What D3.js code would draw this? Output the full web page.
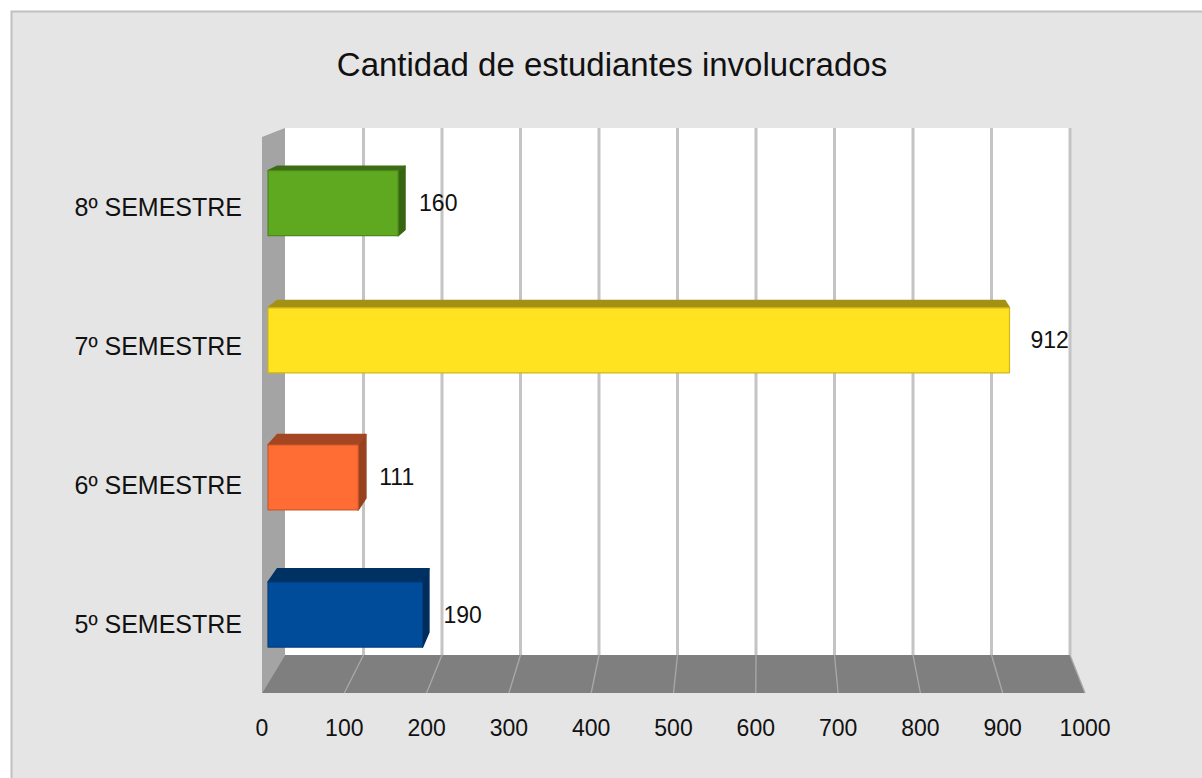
<!DOCTYPE html>
<html>
<head>
<meta charset="utf-8">
<script src="https://cdn.jsdelivr.net/npm/d3@7"></script>
<style>
body { margin: 0; background: #fff; }
svg { display: block; font-family: "Liberation Sans", Arial, sans-serif; }
</style>
</head>
<body>
<svg id="chart" width="1202" height="778"></svg>
<script>
// data
var categories = ["8º SEMESTRE", "7º SEMESTRE", "6º SEMESTRE", "5º SEMESTRE"];
var values = [160, 912, 111, 190];
var tickValues = [0, 100, 200, 300, 400, 500, 600, 700, 800, 900, 1000];
var frontColors = ["#5ea920", "#ffe320", "#ff6d34", "#004c9a"];
var title = "Cantidad de estudiantes involucrados";

var svg = d3.select("#chart");

// front plane and back plane of the 3d box
var front = { x0: 262, x1: 1085, y0: 137, y1: 693 };
var back  = { x0: 285, x1: 1070, y0: 128, y1: 655 };

var x = d3.scaleLinear().domain([0, 1000]).range([0, 1]);
var y = d3.scaleBand().domain(categories).range([0, 1])
	.paddingInner(0.526).paddingOuter(0.263);

// xf, yf in 0..1, t = depth 0 (front) .. 1 (back)
function project(xf, yf, t) {
	var fx = front.x0 + xf * (front.x1 - front.x0);
	var fy = front.y0 + yf * (front.y1 - front.y0);
	var bx = back.x0 + xf * (back.x1 - back.x0);
	var by = back.y0 + yf * (back.y1 - back.y0);
	return [fx + (bx - fx) * t, fy + (by - fy) * t];
}
function poly(pts) {
	return pts.map(function(p) { return p[0].toFixed(1) + "," + p[1].toFixed(1); }).join(" ");
}

// frame
svg.append("rect").attr("x", 11.5).attr("y", 11.5).attr("width", 1300).attr("height", 900)
	.attr("fill", "#e5e5e5").attr("stroke", "#c0c0c0").attr("stroke-width", 2);

// title
svg.append("text").attr("x", 612).attr("y", 76).attr("text-anchor", "middle")
	.attr("font-size", 33).attr("fill", "#111").text(title);

// back wall
svg.append("polygon")
	.attr("points", poly([project(0, 0, 1), project(1, 0, 1), project(1, 1, 1), project(0, 1, 1)]))
	.attr("fill", "#ffffff");

// left wall
svg.append("polygon")
	.attr("points", poly([project(0, 0, 0), project(0, 0, 1), project(0, 1, 1), project(0, 1, 0)]))
	.attr("fill", "#a4a4a4");

// floor
svg.append("polygon")
	.attr("points", poly([project(0, 1, 0), project(1, 1, 0), project(1, 1, 1), project(0, 1, 1)]))
	.attr("fill", "#7f7f7f");

// grid on back wall
svg.selectAll(".gridBack").data(tickValues.slice(1)).enter().append("line")
	.attr("class", "gridBack")
	.attr("x1", function(d) { return project(x(d), 0, 1)[0]; })
	.attr("y1", function(d) { return project(x(d), 0, 1)[1]; })
	.attr("x2", function(d) { return project(x(d), 1, 1)[0]; })
	.attr("y2", function(d) { return project(x(d), 1, 1)[1]; })
	.attr("stroke", "#c4c4c4").attr("stroke-width", 3);

// grid on floor
svg.selectAll(".gridFloor").data(tickValues.slice(1)).enter().append("line")
	.attr("class", "gridFloor")
	.attr("x1", function(d) { return project(x(d), 1, 1)[0]; })
	.attr("y1", function(d) { return project(x(d), 1, 1)[1]; })
	.attr("x2", function(d) { return project(x(d), 1, 0)[0]; })
	.attr("y2", function(d) { return project(x(d), 1, 0)[1]; })
	.attr("stroke", "#a9a9a9").attr("stroke-width", 1.3);

// bars as boxes
var tf = 0.26, tb = 0.67;
var bars = svg.selectAll(".bar").data(values).enter().append("g").attr("class", "bar");

bars.each(function(v, i) {
	var g = d3.select(this);
	var c = frontColors[i];
	var x1 = x(v);
	var ya = y(categories[i]), yb = ya + y.bandwidth();
	var topCol = d3.color(c).darker(1.25);
	var sideCol = d3.color(c).darker(1.45);
	var FTL = project(0, ya, tf), FTR = project(x1, ya, tf), FBR = project(x1, yb, tf), FBL = project(0, yb, tf);
	var BTL = project(0, ya, tb), BTR = project(x1, ya, tb), BBR = project(x1, yb, tb);

	if (BTR[0] > FTR[0]) {
		g.append("polygon").attr("points", poly([FTR, BTR, BBR, FBR]))
			.attr("fill", sideCol).attr("stroke", sideCol).attr("stroke-width", 1.5)
			.attr("stroke-linejoin", "round");
	}
	g.append("polygon").attr("points", poly([FTL, FTR, BTR, BTL]))
		.attr("fill", topCol).attr("stroke", topCol).attr("stroke-width", 1.5)
		.attr("stroke-linejoin", "round");
	g.append("polygon").attr("points", poly([FTL, FTR, FBR, FBL]))
		.attr("fill", c).attr("stroke", d3.color(c).darker(0.6)).attr("stroke-width", 1.2)
		.attr("stroke-linejoin", "round");

	// value label
	svg.append("text")
		.attr("x", FTR[0] + 21)
		.attr("y", (FTR[1] + FBR[1]) / 2 + 8)
		.attr("font-size", 23).attr("fill", "#111")
		.text(v);
});

// category labels
svg.selectAll(".cat").data(categories).enter().append("text")
	.attr("class", "cat")
	.attr("x", 242)
	.attr("y", function(d) { return project(0, y(d) + y.bandwidth() / 2, 0)[1] + 9; })
	.attr("text-anchor", "end")
	.attr("font-size", 25).attr("fill", "#111")
	.text(function(d) { return d; });

// x tick labels
svg.selectAll(".tick").data(tickValues).enter().append("text")
	.attr("class", "tick")
	.attr("x", function(d) { return project(x(d), 1, 0)[0]; })
	.attr("y", 736)
	.attr("text-anchor", "middle")
	.attr("font-size", 23).attr("fill", "#111")
	.text(function(d) { return d; });
</script>
</body>
</html>
